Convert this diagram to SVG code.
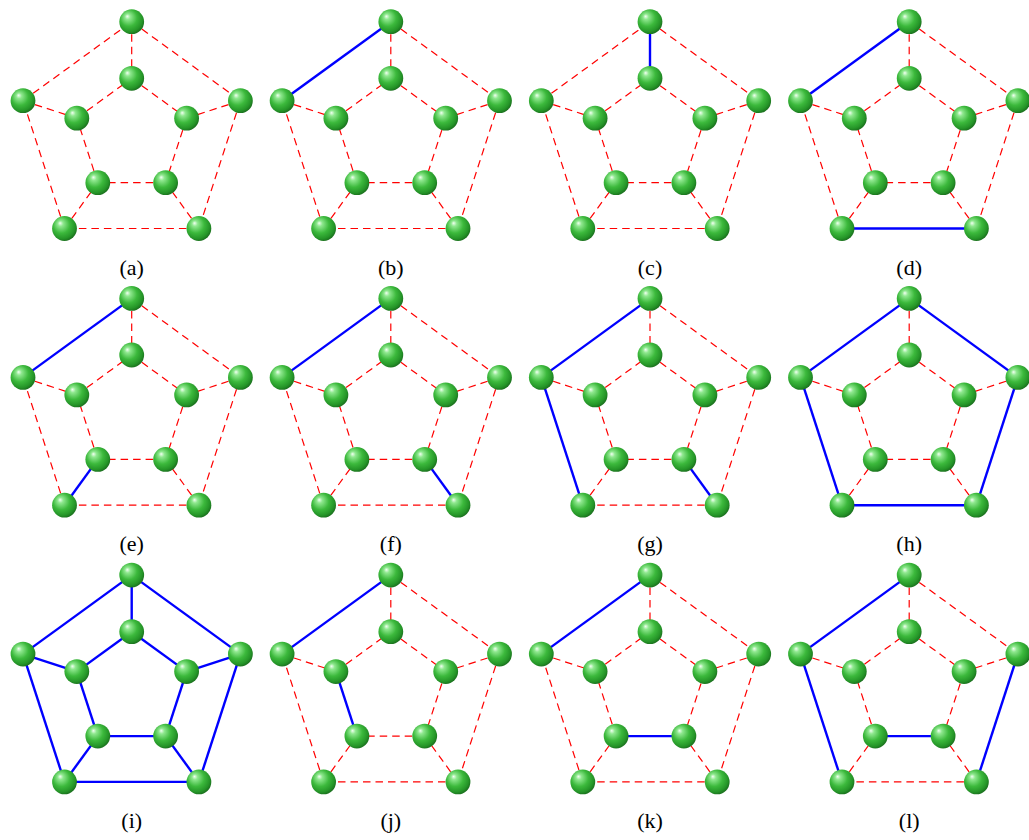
<svg xmlns="http://www.w3.org/2000/svg" width="1029" height="840" viewBox="0 0 1029 840">
<style>
.d{stroke:#ff0000;stroke-width:1.2;stroke-dasharray:7.5 5;fill:none}
.s{stroke:#0000ff;stroke-width:2.4;fill:none}
.node circle{fill:url(#sph)}
.lbl{font-family:"Liberation Serif","Times New Roman",serif;font-size:22px;text-anchor:middle;fill:#000}
</style>
<defs>
<radialGradient id="sph" cx="0.42" cy="0.4" r="0.62" fx="0.32" fy="0.28">
<stop offset="0" stop-color="#f2fff2"/>
<stop offset="0.18" stop-color="#8fe88f"/>
<stop offset="0.55" stop-color="#3cb93c"/>
<stop offset="0.85" stop-color="#259528"/>
<stop offset="1" stop-color="#1b6f1e"/>
</radialGradient>
</defs>
<rect width="1029" height="840" fill="#ffffff"/>

<!-- (a) -->
<g id="panel-a" transform="translate(131.7,136)">
<g id="a-edges">
<line class="d" x1="0" y1="-114.3" x2="108.7" y2="-35.3"/>
<line class="d" x1="108.7" y1="-35.3" x2="67.2" y2="92.5"/>
<line class="d" x1="67.2" y1="92.5" x2="-67.2" y2="92.5"/>
<line class="d" x1="-67.2" y1="92.5" x2="-108.7" y2="-35.3"/>
<line class="d" x1="-108.7" y1="-35.3" x2="0" y2="-114.3"/>
<line class="d" x1="0" y1="-57.7" x2="54.9" y2="-17.8"/>
<line class="d" x1="54.9" y1="-17.8" x2="33.9" y2="46.7"/>
<line class="d" x1="33.9" y1="46.7" x2="-33.9" y2="46.7"/>
<line class="d" x1="-33.9" y1="46.7" x2="-54.9" y2="-17.8"/>
<line class="d" x1="-54.9" y1="-17.8" x2="0" y2="-57.7"/>
<line class="d" x1="0" y1="-114.3" x2="0" y2="-57.7"/>
<line class="d" x1="108.7" y1="-35.3" x2="54.9" y2="-17.8"/>
<line class="d" x1="67.2" y1="92.5" x2="33.9" y2="46.7"/>
<line class="d" x1="-67.2" y1="92.5" x2="-33.9" y2="46.7"/>
<line class="d" x1="-108.7" y1="-35.3" x2="-54.9" y2="-17.8"/>
</g>
<g id="a-o0" class="node"><circle cx="0" cy="-114.3" r="12.4"/></g>
<g id="a-o1" class="node"><circle cx="108.7" cy="-35.3" r="12.4"/></g>
<g id="a-o2" class="node"><circle cx="67.2" cy="92.5" r="12.4"/></g>
<g id="a-o3" class="node"><circle cx="-67.2" cy="92.5" r="12.4"/></g>
<g id="a-o4" class="node"><circle cx="-108.7" cy="-35.3" r="12.4"/></g>
<g id="a-i0" class="node"><circle cx="0" cy="-57.7" r="12.4"/></g>
<g id="a-i1" class="node"><circle cx="54.9" cy="-17.8" r="12.4"/></g>
<g id="a-i2" class="node"><circle cx="33.9" cy="46.7" r="12.4"/></g>
<g id="a-i3" class="node"><circle cx="-33.9" cy="46.7" r="12.4"/></g>
<g id="a-i4" class="node"><circle cx="-54.9" cy="-17.8" r="12.4"/></g>
<text class="lbl" x="0" y="138.6">(a)</text>
</g>

<!-- (b) -->
<g id="panel-b" transform="translate(390.8,136)">
<g id="b-edges">
<line class="d" x1="0" y1="-114.3" x2="108.7" y2="-35.3"/>
<line class="d" x1="108.7" y1="-35.3" x2="67.2" y2="92.5"/>
<line class="d" x1="67.2" y1="92.5" x2="-67.2" y2="92.5"/>
<line class="d" x1="-67.2" y1="92.5" x2="-108.7" y2="-35.3"/>
<line class="s" x1="-108.7" y1="-35.3" x2="0" y2="-114.3"/>
<line class="d" x1="0" y1="-57.7" x2="54.9" y2="-17.8"/>
<line class="d" x1="54.9" y1="-17.8" x2="33.9" y2="46.7"/>
<line class="d" x1="33.9" y1="46.7" x2="-33.9" y2="46.7"/>
<line class="d" x1="-33.9" y1="46.7" x2="-54.9" y2="-17.8"/>
<line class="d" x1="-54.9" y1="-17.8" x2="0" y2="-57.7"/>
<line class="d" x1="0" y1="-114.3" x2="0" y2="-57.7"/>
<line class="d" x1="108.7" y1="-35.3" x2="54.9" y2="-17.8"/>
<line class="d" x1="67.2" y1="92.5" x2="33.9" y2="46.7"/>
<line class="d" x1="-67.2" y1="92.5" x2="-33.9" y2="46.7"/>
<line class="d" x1="-108.7" y1="-35.3" x2="-54.9" y2="-17.8"/>
</g>
<g id="b-o0" class="node"><circle cx="0" cy="-114.3" r="12.4"/></g>
<g id="b-o1" class="node"><circle cx="108.7" cy="-35.3" r="12.4"/></g>
<g id="b-o2" class="node"><circle cx="67.2" cy="92.5" r="12.4"/></g>
<g id="b-o3" class="node"><circle cx="-67.2" cy="92.5" r="12.4"/></g>
<g id="b-o4" class="node"><circle cx="-108.7" cy="-35.3" r="12.4"/></g>
<g id="b-i0" class="node"><circle cx="0" cy="-57.7" r="12.4"/></g>
<g id="b-i1" class="node"><circle cx="54.9" cy="-17.8" r="12.4"/></g>
<g id="b-i2" class="node"><circle cx="33.9" cy="46.7" r="12.4"/></g>
<g id="b-i3" class="node"><circle cx="-33.9" cy="46.7" r="12.4"/></g>
<g id="b-i4" class="node"><circle cx="-54.9" cy="-17.8" r="12.4"/></g>
<text class="lbl" x="0" y="138.6">(b)</text>
</g>

<!-- (c) -->
<g id="panel-c" transform="translate(650,136)">
<g id="c-edges">
<line class="d" x1="0" y1="-114.3" x2="108.7" y2="-35.3"/>
<line class="d" x1="108.7" y1="-35.3" x2="67.2" y2="92.5"/>
<line class="d" x1="67.2" y1="92.5" x2="-67.2" y2="92.5"/>
<line class="d" x1="-67.2" y1="92.5" x2="-108.7" y2="-35.3"/>
<line class="d" x1="-108.7" y1="-35.3" x2="0" y2="-114.3"/>
<line class="d" x1="0" y1="-57.7" x2="54.9" y2="-17.8"/>
<line class="d" x1="54.9" y1="-17.8" x2="33.9" y2="46.7"/>
<line class="d" x1="33.9" y1="46.7" x2="-33.9" y2="46.7"/>
<line class="d" x1="-33.9" y1="46.7" x2="-54.9" y2="-17.8"/>
<line class="d" x1="-54.9" y1="-17.8" x2="0" y2="-57.7"/>
<line class="s" x1="0" y1="-114.3" x2="0" y2="-57.7"/>
<line class="d" x1="108.7" y1="-35.3" x2="54.9" y2="-17.8"/>
<line class="d" x1="67.2" y1="92.5" x2="33.9" y2="46.7"/>
<line class="d" x1="-67.2" y1="92.5" x2="-33.9" y2="46.7"/>
<line class="d" x1="-108.7" y1="-35.3" x2="-54.9" y2="-17.8"/>
</g>
<g id="c-o0" class="node"><circle cx="0" cy="-114.3" r="12.4"/></g>
<g id="c-o1" class="node"><circle cx="108.7" cy="-35.3" r="12.4"/></g>
<g id="c-o2" class="node"><circle cx="67.2" cy="92.5" r="12.4"/></g>
<g id="c-o3" class="node"><circle cx="-67.2" cy="92.5" r="12.4"/></g>
<g id="c-o4" class="node"><circle cx="-108.7" cy="-35.3" r="12.4"/></g>
<g id="c-i0" class="node"><circle cx="0" cy="-57.7" r="12.4"/></g>
<g id="c-i1" class="node"><circle cx="54.9" cy="-17.8" r="12.4"/></g>
<g id="c-i2" class="node"><circle cx="33.9" cy="46.7" r="12.4"/></g>
<g id="c-i3" class="node"><circle cx="-33.9" cy="46.7" r="12.4"/></g>
<g id="c-i4" class="node"><circle cx="-54.9" cy="-17.8" r="12.4"/></g>
<text class="lbl" x="0" y="138.6">(c)</text>
</g>

<!-- (d) -->
<g id="panel-d" transform="translate(909.2,136)">
<g id="d-edges">
<line class="d" x1="0" y1="-114.3" x2="108.7" y2="-35.3"/>
<line class="d" x1="108.7" y1="-35.3" x2="67.2" y2="92.5"/>
<line class="s" x1="67.2" y1="92.5" x2="-67.2" y2="92.5"/>
<line class="d" x1="-67.2" y1="92.5" x2="-108.7" y2="-35.3"/>
<line class="s" x1="-108.7" y1="-35.3" x2="0" y2="-114.3"/>
<line class="d" x1="0" y1="-57.7" x2="54.9" y2="-17.8"/>
<line class="d" x1="54.9" y1="-17.8" x2="33.9" y2="46.7"/>
<line class="d" x1="33.9" y1="46.7" x2="-33.9" y2="46.7"/>
<line class="d" x1="-33.9" y1="46.7" x2="-54.9" y2="-17.8"/>
<line class="d" x1="-54.9" y1="-17.8" x2="0" y2="-57.7"/>
<line class="d" x1="0" y1="-114.3" x2="0" y2="-57.7"/>
<line class="d" x1="108.7" y1="-35.3" x2="54.9" y2="-17.8"/>
<line class="d" x1="67.2" y1="92.5" x2="33.9" y2="46.7"/>
<line class="d" x1="-67.2" y1="92.5" x2="-33.9" y2="46.7"/>
<line class="d" x1="-108.7" y1="-35.3" x2="-54.9" y2="-17.8"/>
</g>
<g id="d-o0" class="node"><circle cx="0" cy="-114.3" r="12.4"/></g>
<g id="d-o1" class="node"><circle cx="108.7" cy="-35.3" r="12.4"/></g>
<g id="d-o2" class="node"><circle cx="67.2" cy="92.5" r="12.4"/></g>
<g id="d-o3" class="node"><circle cx="-67.2" cy="92.5" r="12.4"/></g>
<g id="d-o4" class="node"><circle cx="-108.7" cy="-35.3" r="12.4"/></g>
<g id="d-i0" class="node"><circle cx="0" cy="-57.7" r="12.4"/></g>
<g id="d-i1" class="node"><circle cx="54.9" cy="-17.8" r="12.4"/></g>
<g id="d-i2" class="node"><circle cx="33.9" cy="46.7" r="12.4"/></g>
<g id="d-i3" class="node"><circle cx="-33.9" cy="46.7" r="12.4"/></g>
<g id="d-i4" class="node"><circle cx="-54.9" cy="-17.8" r="12.4"/></g>
<text class="lbl" x="0" y="138.6">(d)</text>
</g>

<!-- (e) -->
<g id="panel-e" transform="translate(131.7,412.7)">
<g id="e-edges">
<line class="d" x1="0" y1="-114.3" x2="108.7" y2="-35.3"/>
<line class="d" x1="108.7" y1="-35.3" x2="67.2" y2="92.5"/>
<line class="d" x1="67.2" y1="92.5" x2="-67.2" y2="92.5"/>
<line class="d" x1="-67.2" y1="92.5" x2="-108.7" y2="-35.3"/>
<line class="s" x1="-108.7" y1="-35.3" x2="0" y2="-114.3"/>
<line class="d" x1="0" y1="-57.7" x2="54.9" y2="-17.8"/>
<line class="d" x1="54.9" y1="-17.8" x2="33.9" y2="46.7"/>
<line class="d" x1="33.9" y1="46.7" x2="-33.9" y2="46.7"/>
<line class="d" x1="-33.9" y1="46.7" x2="-54.9" y2="-17.8"/>
<line class="d" x1="-54.9" y1="-17.8" x2="0" y2="-57.7"/>
<line class="d" x1="0" y1="-114.3" x2="0" y2="-57.7"/>
<line class="d" x1="108.7" y1="-35.3" x2="54.9" y2="-17.8"/>
<line class="d" x1="67.2" y1="92.5" x2="33.9" y2="46.7"/>
<line class="s" x1="-67.2" y1="92.5" x2="-33.9" y2="46.7"/>
<line class="d" x1="-108.7" y1="-35.3" x2="-54.9" y2="-17.8"/>
</g>
<g id="e-o0" class="node"><circle cx="0" cy="-114.3" r="12.4"/></g>
<g id="e-o1" class="node"><circle cx="108.7" cy="-35.3" r="12.4"/></g>
<g id="e-o2" class="node"><circle cx="67.2" cy="92.5" r="12.4"/></g>
<g id="e-o3" class="node"><circle cx="-67.2" cy="92.5" r="12.4"/></g>
<g id="e-o4" class="node"><circle cx="-108.7" cy="-35.3" r="12.4"/></g>
<g id="e-i0" class="node"><circle cx="0" cy="-57.7" r="12.4"/></g>
<g id="e-i1" class="node"><circle cx="54.9" cy="-17.8" r="12.4"/></g>
<g id="e-i2" class="node"><circle cx="33.9" cy="46.7" r="12.4"/></g>
<g id="e-i3" class="node"><circle cx="-33.9" cy="46.7" r="12.4"/></g>
<g id="e-i4" class="node"><circle cx="-54.9" cy="-17.8" r="12.4"/></g>
<text class="lbl" x="0" y="138.6">(e)</text>
</g>

<!-- (f) -->
<g id="panel-f" transform="translate(390.8,412.7)">
<g id="f-edges">
<line class="d" x1="0" y1="-114.3" x2="108.7" y2="-35.3"/>
<line class="d" x1="108.7" y1="-35.3" x2="67.2" y2="92.5"/>
<line class="d" x1="67.2" y1="92.5" x2="-67.2" y2="92.5"/>
<line class="d" x1="-67.2" y1="92.5" x2="-108.7" y2="-35.3"/>
<line class="s" x1="-108.7" y1="-35.3" x2="0" y2="-114.3"/>
<line class="d" x1="0" y1="-57.7" x2="54.9" y2="-17.8"/>
<line class="d" x1="54.9" y1="-17.8" x2="33.9" y2="46.7"/>
<line class="d" x1="33.9" y1="46.7" x2="-33.9" y2="46.7"/>
<line class="d" x1="-33.9" y1="46.7" x2="-54.9" y2="-17.8"/>
<line class="d" x1="-54.9" y1="-17.8" x2="0" y2="-57.7"/>
<line class="d" x1="0" y1="-114.3" x2="0" y2="-57.7"/>
<line class="d" x1="108.7" y1="-35.3" x2="54.9" y2="-17.8"/>
<line class="s" x1="67.2" y1="92.5" x2="33.9" y2="46.7"/>
<line class="d" x1="-67.2" y1="92.5" x2="-33.9" y2="46.7"/>
<line class="d" x1="-108.7" y1="-35.3" x2="-54.9" y2="-17.8"/>
</g>
<g id="f-o0" class="node"><circle cx="0" cy="-114.3" r="12.4"/></g>
<g id="f-o1" class="node"><circle cx="108.7" cy="-35.3" r="12.4"/></g>
<g id="f-o2" class="node"><circle cx="67.2" cy="92.5" r="12.4"/></g>
<g id="f-o3" class="node"><circle cx="-67.2" cy="92.5" r="12.4"/></g>
<g id="f-o4" class="node"><circle cx="-108.7" cy="-35.3" r="12.4"/></g>
<g id="f-i0" class="node"><circle cx="0" cy="-57.7" r="12.4"/></g>
<g id="f-i1" class="node"><circle cx="54.9" cy="-17.8" r="12.4"/></g>
<g id="f-i2" class="node"><circle cx="33.9" cy="46.7" r="12.4"/></g>
<g id="f-i3" class="node"><circle cx="-33.9" cy="46.7" r="12.4"/></g>
<g id="f-i4" class="node"><circle cx="-54.9" cy="-17.8" r="12.4"/></g>
<text class="lbl" x="0" y="138.6">(f)</text>
</g>

<!-- (g) -->
<g id="panel-g" transform="translate(650,412.7)">
<g id="g-edges">
<line class="d" x1="0" y1="-114.3" x2="108.7" y2="-35.3"/>
<line class="d" x1="108.7" y1="-35.3" x2="67.2" y2="92.5"/>
<line class="d" x1="67.2" y1="92.5" x2="-67.2" y2="92.5"/>
<line class="s" x1="-67.2" y1="92.5" x2="-108.7" y2="-35.3"/>
<line class="s" x1="-108.7" y1="-35.3" x2="0" y2="-114.3"/>
<line class="d" x1="0" y1="-57.7" x2="54.9" y2="-17.8"/>
<line class="d" x1="54.9" y1="-17.8" x2="33.9" y2="46.7"/>
<line class="d" x1="33.9" y1="46.7" x2="-33.9" y2="46.7"/>
<line class="d" x1="-33.9" y1="46.7" x2="-54.9" y2="-17.8"/>
<line class="d" x1="-54.9" y1="-17.8" x2="0" y2="-57.7"/>
<line class="d" x1="0" y1="-114.3" x2="0" y2="-57.7"/>
<line class="d" x1="108.7" y1="-35.3" x2="54.9" y2="-17.8"/>
<line class="s" x1="67.2" y1="92.5" x2="33.9" y2="46.7"/>
<line class="d" x1="-67.2" y1="92.5" x2="-33.9" y2="46.7"/>
<line class="d" x1="-108.7" y1="-35.3" x2="-54.9" y2="-17.8"/>
</g>
<g id="g-o0" class="node"><circle cx="0" cy="-114.3" r="12.4"/></g>
<g id="g-o1" class="node"><circle cx="108.7" cy="-35.3" r="12.4"/></g>
<g id="g-o2" class="node"><circle cx="67.2" cy="92.5" r="12.4"/></g>
<g id="g-o3" class="node"><circle cx="-67.2" cy="92.5" r="12.4"/></g>
<g id="g-o4" class="node"><circle cx="-108.7" cy="-35.3" r="12.4"/></g>
<g id="g-i0" class="node"><circle cx="0" cy="-57.7" r="12.4"/></g>
<g id="g-i1" class="node"><circle cx="54.9" cy="-17.8" r="12.4"/></g>
<g id="g-i2" class="node"><circle cx="33.9" cy="46.7" r="12.4"/></g>
<g id="g-i3" class="node"><circle cx="-33.9" cy="46.7" r="12.4"/></g>
<g id="g-i4" class="node"><circle cx="-54.9" cy="-17.8" r="12.4"/></g>
<text class="lbl" x="0" y="138.6">(g)</text>
</g>

<!-- (h) -->
<g id="panel-h" transform="translate(909.2,412.7)">
<g id="h-edges">
<line class="s" x1="0" y1="-114.3" x2="108.7" y2="-35.3"/>
<line class="s" x1="108.7" y1="-35.3" x2="67.2" y2="92.5"/>
<line class="s" x1="67.2" y1="92.5" x2="-67.2" y2="92.5"/>
<line class="s" x1="-67.2" y1="92.5" x2="-108.7" y2="-35.3"/>
<line class="s" x1="-108.7" y1="-35.3" x2="0" y2="-114.3"/>
<line class="d" x1="0" y1="-57.7" x2="54.9" y2="-17.8"/>
<line class="d" x1="54.9" y1="-17.8" x2="33.9" y2="46.7"/>
<line class="d" x1="33.9" y1="46.7" x2="-33.9" y2="46.7"/>
<line class="d" x1="-33.9" y1="46.7" x2="-54.9" y2="-17.8"/>
<line class="d" x1="-54.9" y1="-17.8" x2="0" y2="-57.7"/>
<line class="d" x1="0" y1="-114.3" x2="0" y2="-57.7"/>
<line class="d" x1="108.7" y1="-35.3" x2="54.9" y2="-17.8"/>
<line class="d" x1="67.2" y1="92.5" x2="33.9" y2="46.7"/>
<line class="d" x1="-67.2" y1="92.5" x2="-33.9" y2="46.7"/>
<line class="d" x1="-108.7" y1="-35.3" x2="-54.9" y2="-17.8"/>
</g>
<g id="h-o0" class="node"><circle cx="0" cy="-114.3" r="12.4"/></g>
<g id="h-o1" class="node"><circle cx="108.7" cy="-35.3" r="12.4"/></g>
<g id="h-o2" class="node"><circle cx="67.2" cy="92.5" r="12.4"/></g>
<g id="h-o3" class="node"><circle cx="-67.2" cy="92.5" r="12.4"/></g>
<g id="h-o4" class="node"><circle cx="-108.7" cy="-35.3" r="12.4"/></g>
<g id="h-i0" class="node"><circle cx="0" cy="-57.7" r="12.4"/></g>
<g id="h-i1" class="node"><circle cx="54.9" cy="-17.8" r="12.4"/></g>
<g id="h-i2" class="node"><circle cx="33.9" cy="46.7" r="12.4"/></g>
<g id="h-i3" class="node"><circle cx="-33.9" cy="46.7" r="12.4"/></g>
<g id="h-i4" class="node"><circle cx="-54.9" cy="-17.8" r="12.4"/></g>
<text class="lbl" x="0" y="138.6">(h)</text>
</g>

<!-- (i) -->
<g id="panel-i" transform="translate(131.7,689.4)">
<g id="i-edges">
<line class="s" x1="0" y1="-114.3" x2="108.7" y2="-35.3"/>
<line class="s" x1="108.7" y1="-35.3" x2="67.2" y2="92.5"/>
<line class="s" x1="67.2" y1="92.5" x2="-67.2" y2="92.5"/>
<line class="s" x1="-67.2" y1="92.5" x2="-108.7" y2="-35.3"/>
<line class="s" x1="-108.7" y1="-35.3" x2="0" y2="-114.3"/>
<line class="s" x1="0" y1="-57.7" x2="54.9" y2="-17.8"/>
<line class="s" x1="54.9" y1="-17.8" x2="33.9" y2="46.7"/>
<line class="s" x1="33.9" y1="46.7" x2="-33.9" y2="46.7"/>
<line class="s" x1="-33.9" y1="46.7" x2="-54.9" y2="-17.8"/>
<line class="s" x1="-54.9" y1="-17.8" x2="0" y2="-57.7"/>
<line class="s" x1="0" y1="-114.3" x2="0" y2="-57.7"/>
<line class="s" x1="108.7" y1="-35.3" x2="54.9" y2="-17.8"/>
<line class="s" x1="67.2" y1="92.5" x2="33.9" y2="46.7"/>
<line class="s" x1="-67.2" y1="92.5" x2="-33.9" y2="46.7"/>
<line class="s" x1="-108.7" y1="-35.3" x2="-54.9" y2="-17.8"/>
</g>
<g id="i-o0" class="node"><circle cx="0" cy="-114.3" r="12.4"/></g>
<g id="i-o1" class="node"><circle cx="108.7" cy="-35.3" r="12.4"/></g>
<g id="i-o2" class="node"><circle cx="67.2" cy="92.5" r="12.4"/></g>
<g id="i-o3" class="node"><circle cx="-67.2" cy="92.5" r="12.4"/></g>
<g id="i-o4" class="node"><circle cx="-108.7" cy="-35.3" r="12.4"/></g>
<g id="i-i0" class="node"><circle cx="0" cy="-57.7" r="12.4"/></g>
<g id="i-i1" class="node"><circle cx="54.9" cy="-17.8" r="12.4"/></g>
<g id="i-i2" class="node"><circle cx="33.9" cy="46.7" r="12.4"/></g>
<g id="i-i3" class="node"><circle cx="-33.9" cy="46.7" r="12.4"/></g>
<g id="i-i4" class="node"><circle cx="-54.9" cy="-17.8" r="12.4"/></g>
<text class="lbl" x="0" y="138.6">(i)</text>
</g>

<!-- (j) -->
<g id="panel-j" transform="translate(390.8,689.4)">
<g id="j-edges">
<line class="d" x1="0" y1="-114.3" x2="108.7" y2="-35.3"/>
<line class="d" x1="108.7" y1="-35.3" x2="67.2" y2="92.5"/>
<line class="d" x1="67.2" y1="92.5" x2="-67.2" y2="92.5"/>
<line class="d" x1="-67.2" y1="92.5" x2="-108.7" y2="-35.3"/>
<line class="s" x1="-108.7" y1="-35.3" x2="0" y2="-114.3"/>
<line class="d" x1="0" y1="-57.7" x2="54.9" y2="-17.8"/>
<line class="d" x1="54.9" y1="-17.8" x2="33.9" y2="46.7"/>
<line class="d" x1="33.9" y1="46.7" x2="-33.9" y2="46.7"/>
<line class="s" x1="-33.9" y1="46.7" x2="-54.9" y2="-17.8"/>
<line class="d" x1="-54.9" y1="-17.8" x2="0" y2="-57.7"/>
<line class="d" x1="0" y1="-114.3" x2="0" y2="-57.7"/>
<line class="d" x1="108.7" y1="-35.3" x2="54.9" y2="-17.8"/>
<line class="d" x1="67.2" y1="92.5" x2="33.9" y2="46.7"/>
<line class="d" x1="-67.2" y1="92.5" x2="-33.9" y2="46.7"/>
<line class="d" x1="-108.7" y1="-35.3" x2="-54.9" y2="-17.8"/>
</g>
<g id="j-o0" class="node"><circle cx="0" cy="-114.3" r="12.4"/></g>
<g id="j-o1" class="node"><circle cx="108.7" cy="-35.3" r="12.4"/></g>
<g id="j-o2" class="node"><circle cx="67.2" cy="92.5" r="12.4"/></g>
<g id="j-o3" class="node"><circle cx="-67.2" cy="92.5" r="12.4"/></g>
<g id="j-o4" class="node"><circle cx="-108.7" cy="-35.3" r="12.4"/></g>
<g id="j-i0" class="node"><circle cx="0" cy="-57.7" r="12.4"/></g>
<g id="j-i1" class="node"><circle cx="54.9" cy="-17.8" r="12.4"/></g>
<g id="j-i2" class="node"><circle cx="33.9" cy="46.7" r="12.4"/></g>
<g id="j-i3" class="node"><circle cx="-33.9" cy="46.7" r="12.4"/></g>
<g id="j-i4" class="node"><circle cx="-54.9" cy="-17.8" r="12.4"/></g>
<text class="lbl" x="0" y="138.6">(j)</text>
</g>

<!-- (k) -->
<g id="panel-k" transform="translate(650,689.4)">
<g id="k-edges">
<line class="d" x1="0" y1="-114.3" x2="108.7" y2="-35.3"/>
<line class="d" x1="108.7" y1="-35.3" x2="67.2" y2="92.5"/>
<line class="d" x1="67.2" y1="92.5" x2="-67.2" y2="92.5"/>
<line class="d" x1="-67.2" y1="92.5" x2="-108.7" y2="-35.3"/>
<line class="s" x1="-108.7" y1="-35.3" x2="0" y2="-114.3"/>
<line class="d" x1="0" y1="-57.7" x2="54.9" y2="-17.8"/>
<line class="d" x1="54.9" y1="-17.8" x2="33.9" y2="46.7"/>
<line class="s" x1="33.9" y1="46.7" x2="-33.9" y2="46.7"/>
<line class="d" x1="-33.9" y1="46.7" x2="-54.9" y2="-17.8"/>
<line class="d" x1="-54.9" y1="-17.8" x2="0" y2="-57.7"/>
<line class="d" x1="0" y1="-114.3" x2="0" y2="-57.7"/>
<line class="d" x1="108.7" y1="-35.3" x2="54.9" y2="-17.8"/>
<line class="d" x1="67.2" y1="92.5" x2="33.9" y2="46.7"/>
<line class="d" x1="-67.2" y1="92.5" x2="-33.9" y2="46.7"/>
<line class="d" x1="-108.7" y1="-35.3" x2="-54.9" y2="-17.8"/>
</g>
<g id="k-o0" class="node"><circle cx="0" cy="-114.3" r="12.4"/></g>
<g id="k-o1" class="node"><circle cx="108.7" cy="-35.3" r="12.4"/></g>
<g id="k-o2" class="node"><circle cx="67.2" cy="92.5" r="12.4"/></g>
<g id="k-o3" class="node"><circle cx="-67.2" cy="92.5" r="12.4"/></g>
<g id="k-o4" class="node"><circle cx="-108.7" cy="-35.3" r="12.4"/></g>
<g id="k-i0" class="node"><circle cx="0" cy="-57.7" r="12.4"/></g>
<g id="k-i1" class="node"><circle cx="54.9" cy="-17.8" r="12.4"/></g>
<g id="k-i2" class="node"><circle cx="33.9" cy="46.7" r="12.4"/></g>
<g id="k-i3" class="node"><circle cx="-33.9" cy="46.7" r="12.4"/></g>
<g id="k-i4" class="node"><circle cx="-54.9" cy="-17.8" r="12.4"/></g>
<text class="lbl" x="0" y="138.6">(k)</text>
</g>

<!-- (l) -->
<g id="panel-l" transform="translate(909.2,689.4)">
<g id="l-edges">
<line class="d" x1="0" y1="-114.3" x2="108.7" y2="-35.3"/>
<line class="s" x1="108.7" y1="-35.3" x2="67.2" y2="92.5"/>
<line class="d" x1="67.2" y1="92.5" x2="-67.2" y2="92.5"/>
<line class="s" x1="-67.2" y1="92.5" x2="-108.7" y2="-35.3"/>
<line class="s" x1="-108.7" y1="-35.3" x2="0" y2="-114.3"/>
<line class="d" x1="0" y1="-57.7" x2="54.9" y2="-17.8"/>
<line class="d" x1="54.9" y1="-17.8" x2="33.9" y2="46.7"/>
<line class="s" x1="33.9" y1="46.7" x2="-33.9" y2="46.7"/>
<line class="d" x1="-33.9" y1="46.7" x2="-54.9" y2="-17.8"/>
<line class="d" x1="-54.9" y1="-17.8" x2="0" y2="-57.7"/>
<line class="d" x1="0" y1="-114.3" x2="0" y2="-57.7"/>
<line class="d" x1="108.7" y1="-35.3" x2="54.9" y2="-17.8"/>
<line class="d" x1="67.2" y1="92.5" x2="33.9" y2="46.7"/>
<line class="d" x1="-67.2" y1="92.5" x2="-33.9" y2="46.7"/>
<line class="d" x1="-108.7" y1="-35.3" x2="-54.9" y2="-17.8"/>
</g>
<g id="l-o0" class="node"><circle cx="0" cy="-114.3" r="12.4"/></g>
<g id="l-o1" class="node"><circle cx="108.7" cy="-35.3" r="12.4"/></g>
<g id="l-o2" class="node"><circle cx="67.2" cy="92.5" r="12.4"/></g>
<g id="l-o3" class="node"><circle cx="-67.2" cy="92.5" r="12.4"/></g>
<g id="l-o4" class="node"><circle cx="-108.7" cy="-35.3" r="12.4"/></g>
<g id="l-i0" class="node"><circle cx="0" cy="-57.7" r="12.4"/></g>
<g id="l-i1" class="node"><circle cx="54.9" cy="-17.8" r="12.4"/></g>
<g id="l-i2" class="node"><circle cx="33.9" cy="46.7" r="12.4"/></g>
<g id="l-i3" class="node"><circle cx="-33.9" cy="46.7" r="12.4"/></g>
<g id="l-i4" class="node"><circle cx="-54.9" cy="-17.8" r="12.4"/></g>
<text class="lbl" x="0" y="138.6">(l)</text>
</g>
</svg>
